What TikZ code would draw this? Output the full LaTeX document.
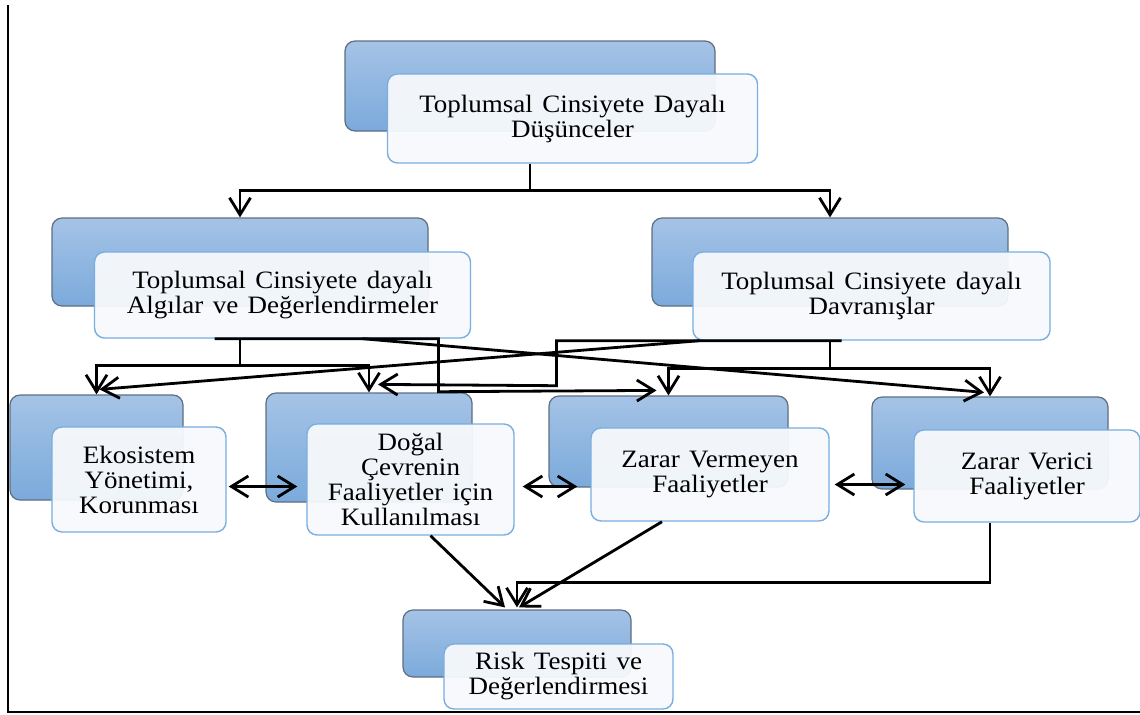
\documentclass[tikz,border=0pt]{standalone}
\usepackage{fontspec}
\setmainfont{Liberation Serif}[FakeStretch=1.08,WordSpace=1.4]
\usetikzlibrary{arrows.meta}

\definecolor{backtop}{HTML}{A5C3E6}
\definecolor{backbot}{HTML}{7BAADB}
\definecolor{backline}{HTML}{5E6E82}
\definecolor{frontfill}{HTML}{F7F9FC}
\definecolor{frontline}{HTML}{78AEE0}

\tikzset{
  backbox/.style={draw=backline, line width=0.6pt, rounded corners=5pt,
    top color=backtop, bottom color=backbot, inner sep=0pt},
  frontbox/.style={draw=frontline, line width=0.7pt, rounded corners=5pt,
    fill=frontfill, fill opacity=0.95, text opacity=1, inner sep=2pt,
    align=center, font=\fontsize{12.5}{12.5}\selectfont},
  link/.style={line width=1.4pt, -{Straight Barb[length=8.5pt,width=10.5pt]}},
  bothway/.style={line width=1.4pt,
    {Straight Barb[length=8.5pt,width=10.5pt]}-{Straight Barb[length=8.5pt,width=10.5pt]}},
}

\begin{document}
\begin{tikzpicture}[x=0.5pt, y=-0.5pt]
\useasboundingbox (0,0) rectangle (1140,714);

% back boxes
\node[backbox, minimum width=185pt, minimum height=45pt] (topb) at (530,86) {};
\node[backbox, minimum width=188pt, minimum height=44pt] (L2b) at (240,262) {};
\node[backbox, minimum width=178pt, minimum height=44pt] (R2b) at (830,262) {};
\node[backbox, minimum width=86.5pt, minimum height=52.5pt] (EKb) at (96.5,447.5) {};
\node[backbox, minimum width=103pt, minimum height=54.5pt] (DOb) at (369,447.5) {};
\node[backbox, minimum width=119.5pt, minimum height=45.5pt] (ZVb) at (668.5,441.5) {};
\node[backbox, minimum width=118pt, minimum height=46pt] (ZRb) at (990,443) {};
\node[backbox, minimum width=114pt, minimum height=33.5pt] (RKb) at (517,643.5) {};

% front boxes
\node[frontbox, minimum width=185pt, minimum height=44.5pt] (top) at (572.5,118.5)
  {Toplumsal Cinsiyete Dayalı\\Düşünceler};
\node[frontbox, minimum width=188pt, minimum height=43pt] (L2) at (282.5,295)
  {Toplumsal Cinsiyete dayalı\\Algılar ve Değerlendirmeler};
\node[frontbox, minimum width=178.5pt, minimum height=44pt] (R2) at (871.5,296)
  {Toplumsal Cinsiyete dayalı\\Davranışlar};
\node[frontbox, minimum width=87pt, minimum height=52.5pt] (EK) at (139,479.5)
  {Ekosistem\\Yönetimi,\\Korunması};
\node[frontbox, minimum width=103.5pt, minimum height=55.5pt] (DO) at (410.5,479.5)
  {Doğal\\Çevrenin\\Faaliyetler için\\Kullanılması};
\node[frontbox, minimum width=119pt, minimum height=46.5pt] (ZV) at (710,474.5)
  {Zarar Vermeyen\\Faaliyetler};
\node[frontbox, minimum width=113pt, minimum height=46pt] (ZR) at (1027,476)
  {Zarar Verici\\Faaliyetler};
\node[frontbox, minimum width=114.5pt, minimum height=32.5pt] (RK) at (558.5,676.5)
  {Risk Tespiti ve\\Değerlendirmesi};

% connectors
\draw[link] (topb |- top.south) -- ++(0,27) -| (L2b.north);
\draw[link] (topb |- top.south) -- ++(0,27) -| (R2b.north);

\draw[link] (L2b |- L2.south) -- ++(0,27) -| (EKb.north);
\draw[link] (L2b |- L2.south) -- ++(0,27) -| (DOb.north);
\draw[link] ([xshift=-34pt]L2.south) -| ++(224,53) -- ([xshift=-6pt,yshift=2.5pt]ZVb.north);
\draw[link] ([xshift=40pt]L2.south) -- ([xshift=-3pt,yshift=2pt]ZRb.north);

\draw[link] (R2b |- R2.south) -- ++(0,28) -| (ZVb.north);
\draw[link] (R2b |- R2.south) -- ++(0,28) -| (ZRb.north);
\draw[link] ([xshift=-15pt]R2.south) -| ++(-285,45) -- ([xshift=4.5pt,yshift=4pt]DOb.north);
\draw[link] ([xshift=-86pt]R2.south) -- ([xshift=1.5pt,yshift=2.5pt]EKb.north);

\draw[bothway] ([xshift=1pt,yshift=-3.5pt]EK.east) -- ([xshift=-4.5pt,yshift=-3.5pt]DO.west);
\draw[bothway] ([xshift=4pt,yshift=-3.5pt]DO.east) -- ([xshift=-6.5pt,yshift=-6pt]ZV.west);
\draw[bothway] ([xshift=2.5pt,yshift=-5pt]ZV.east) -- ([xshift=-4pt,yshift=-4.25pt]ZR.west);

\draw[link] ([xshift=10pt]DO.south) -- ([xshift=-6pt,yshift=1pt]RKb.north);
\draw[link] ([xshift=-24pt]ZV.south) -- ([xshift=1pt,yshift=1pt]RKb.north);
\draw[link] (ZRb |- ZR.south) -- ++(0,60) -| ([yshift=1pt]RKb.north);

% frame
\draw[line width=1.4pt] (8,5) -- (8,712) -- (1140,712);
\end{tikzpicture}
\end{document}
